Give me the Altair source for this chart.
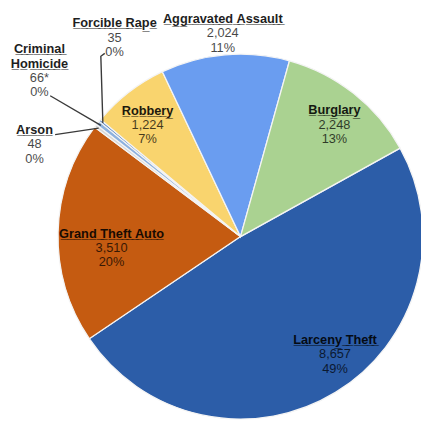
import math
import altair as alt
import pandas as pd

# ---- data ----
categories = ["Larceny Theft", "Grand Theft Auto", "Arson", "Criminal Homicide",
              "Forcible Rape", "Robbery", "Aggravated Assault", "Burglary"]
counts = [8657, 3510, 48, 66, 35, 1224, 2024, 2248]
count_labels = ["8,657", "3,510", "48", "66*", "35", "1,224", "2,024", "2,248"]
pct_labels = ["49%", "20%", "0%", "0%", "0%", "7%", "11%", "13%"]
name_lines = [["Larceny Theft"], ["Grand Theft Auto"], ["Arson"], ["Criminal", "Homicide"],
              ["Forcible Rape"], ["Robbery"], ["Aggravated Assault"], ["Burglary"]]

# ---- style / layout ----
colors = ["#2C5DA8", "#C55B11", "#D6D6D6", "#8DB1DE", "#4F7FC0",
          "#F9D46E", "#6A9DF0", "#AAD291"]
CX, CY, R = 237, 229, 186
START_DEG = 61.0
LINE_H = 14.6
# label anchor (value line) as (radius, angle offset from slice middle in degrees)
label_polar = {
    "Larceny Theft": (154, -7.2),
    "Grand Theft Auto": (132, -6.6),
    "Arson": (230, -13.3),
    "Criminal Homicide": (261, -0.3),
    "Forcible Rape": (240, 18.1),
    "Robbery": (148, -2.1),
    "Aggravated Assault": (208, -0.1),
    "Burglary": (149, 1.7),
}
# leader line points relative to the label anchor (end point is the pie edge)
leader_offsets = {
    "Arson": [(21, -10)],
    "Criminal Homicide": [(11, 18)],
    "Forcible Rape": [(-10, 16), (-14, 19)],
}

total = sum(counts)
mids = {}
cum = 0
for cat, c in zip(categories, counts):
    mids[cat] = START_DEG + (cum + c / 2) / total * 360
    cum += c


def polar(r, deg):
    a = math.radians(deg)
    return CX + r * math.sin(a), CY - r * math.cos(a)


def underline(s):
    return "".join(ch + "\u0332" for ch in s)


df = pd.DataFrame({"category": categories, "count": counts, "order": list(range(len(categories)))})

name_rows, num_rows = [], []
anchors = {}
for i, cat in enumerate(categories):
    r, off = label_polar[cat]
    ax, ay = polar(r, mids[cat] + off)
    anchors[cat] = (ax, ay)
    lines = name_lines[i]
    for k, ln in enumerate(lines):
        name_rows.append({"x": ax, "y": ay - LINE_H * (len(lines) - k), "text": underline(ln)})
    num_rows.append({"x": ax, "y": ay, "text": count_labels[i]})
    num_rows.append({"x": ax, "y": ay + LINE_H, "text": pct_labels[i]})

lead_rows = []
for cat, pts in leader_offsets.items():
    ax, ay = anchors[cat]
    seq = [(ax + dx, ay + dy) for dx, dy in pts]
    seq.append(polar(R - 4, mids[cat]))
    for j, (px, py) in enumerate(seq):
        lead_rows.append({"cat": cat, "idx": j, "x": px, "y": py})

names_df = pd.DataFrame(name_rows)
nums_df = pd.DataFrame(num_rows)
lead_df = pd.DataFrame(lead_rows)

a0 = math.radians(START_DEG)
pie = alt.Chart(df).mark_arc(outerRadius=R, stroke="#F4F4F4", strokeWidth=1.3).encode(
    theta=alt.Theta("count:Q", stack=True, scale=alt.Scale(range=[a0, a0 + 2 * math.pi])),
    color=alt.Color("category:N", scale=alt.Scale(domain=categories, range=colors), legend=None),
    order=alt.Order("order:Q"),
    x=alt.value(CX),
    y=alt.value(CY),
)

leaders = alt.Chart(lead_df).mark_line(color="#3A3A3A", strokeWidth=1.4).encode(
    x=alt.X("x:Q", scale=None, axis=None),
    y=alt.Y("y:Q", scale=None, axis=None),
    detail="cat:N",
    order="idx:Q",
)

names = alt.Chart(names_df).mark_text(
    font="Liberation Sans", fontSize=13, fontWeight="bold", color="#000000",
    opacity=0.88, align="center", baseline="middle",
).encode(
    x=alt.X("x:Q", scale=None, axis=None),
    y=alt.Y("y:Q", scale=None, axis=None),
    text="text:N",
)

nums = alt.Chart(nums_df).mark_text(
    font="Liberation Sans", fontSize=13, color="#000000",
    opacity=0.72, align="center", baseline="middle",
).encode(
    x=alt.X("x:Q", scale=None, axis=None),
    y=alt.Y("y:Q", scale=None, axis=None),
    text="text:N",
)

chart = alt.layer(pie, leaders, names, nums).properties(
    width=421, height=415, padding=0,
    autosize=alt.AutoSizeParams(type="none"),
).configure_view(strokeWidth=0)

chart.save("out.html", embed_options={"renderer": "svg", "actions": False})
